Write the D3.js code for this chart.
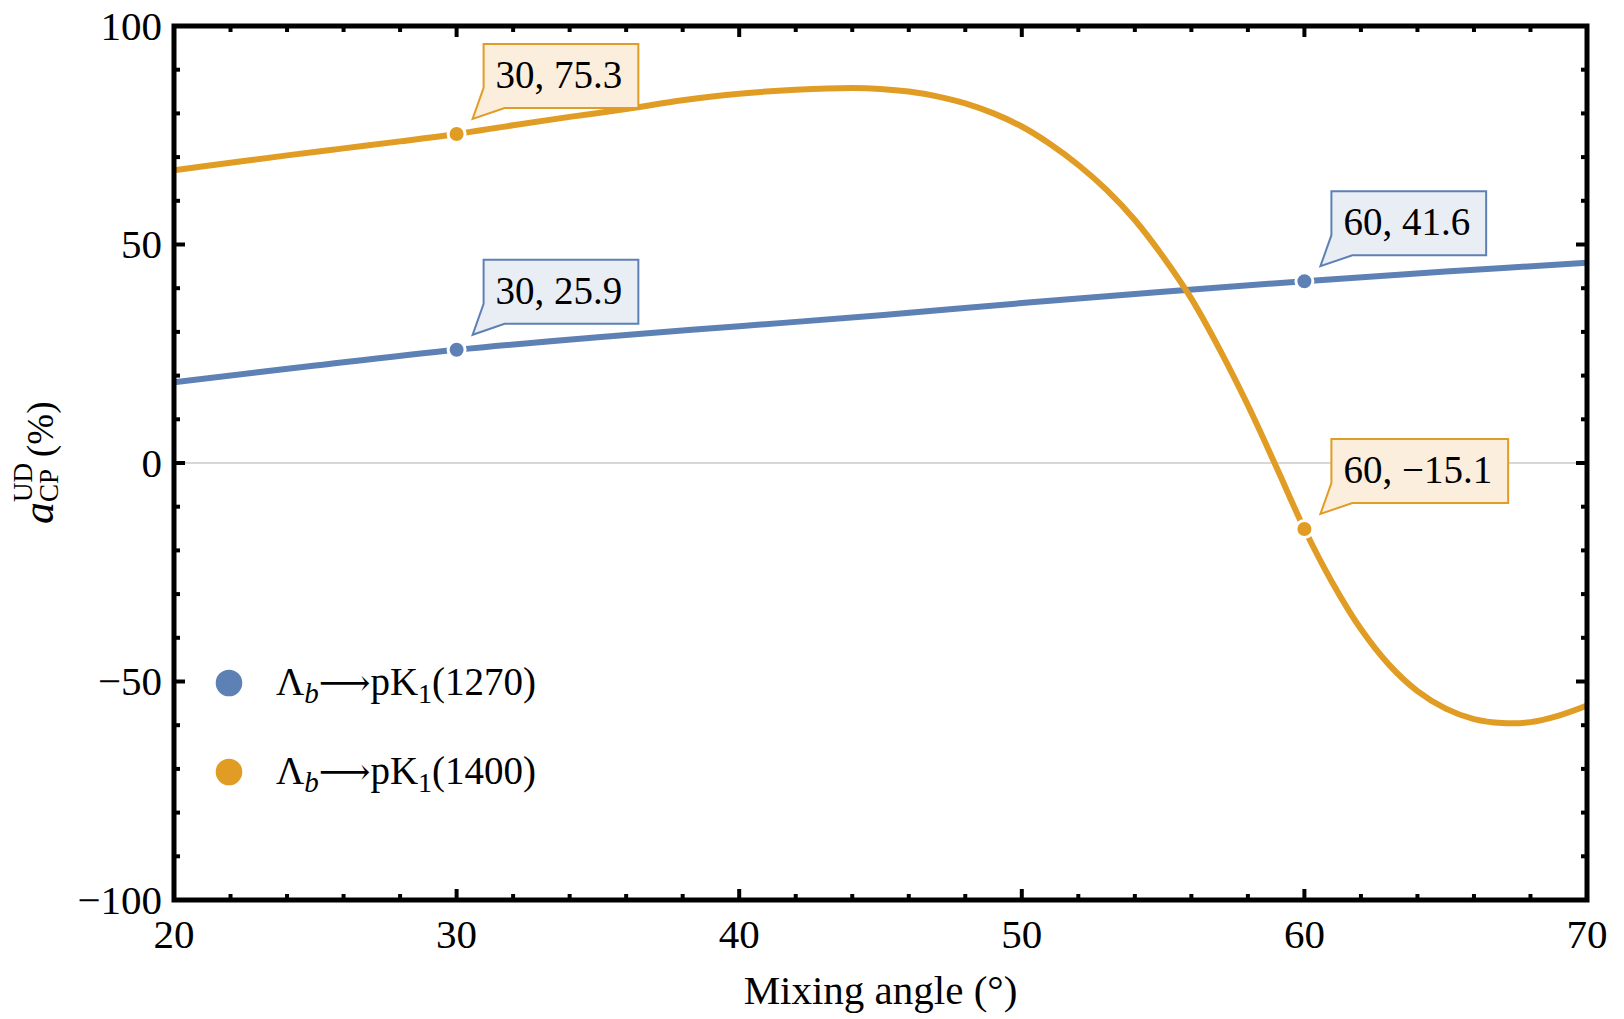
<!DOCTYPE html>
<html><head><meta charset="utf-8">
<script src="https://cdn.jsdelivr.net/npm/d3@7"></script>
<style>
body{margin:0;background:#fff}
text{font-family:'Liberation Serif','Times New Roman','DejaVu Serif',serif;fill:#000}
</style>
</head><body>
<svg id="chart" width="1624" height="1019"></svg>
<script>
// ---- data ----
const blueAngles  = [20, 25, 30, 35, 40, 45, 50, 55, 60, 65, 70];
const blueValues  = [18.5, 22.3, 25.9, 28.8, 31.3, 33.8, 36.6, 39.2, 41.6, 43.8, 45.8];
const orangeAngles = [20, 22, 24, 26, 28, 30, 32, 34, 36, 38, 40, 42, 44, 45, 46, 47, 48, 49, 50, 51, 52, 53, 54, 55, 56, 57, 58, 59, 60, 61, 62, 63, 64, 65, 66, 67, 68, 69, 70];
const orangeValues = [67.0, 68.7, 70.4, 72.0, 73.6, 75.3, 77.3, 79.2, 81.0, 83.0, 84.5, 85.4, 85.8, 85.6, 85.0, 83.9, 82.3, 80.0, 77.0, 73.0, 68.2, 62.5, 55.6, 47.2, 37.6, 26.0, 13.2, -0.8, -15.1, -27.5, -38.0, -46.2, -52.2, -56.2, -58.6, -59.5, -59.3, -57.8, -55.5];
const xTickLabels = [20, 30, 40, 50, 60, 70];
const yTickLabels = [-100, -50, 0, 50, 100];
const calloutAngles = [30, 60, 30, 60];
const calloutValues = [25.9, 41.6, 75.3, -15.1];
const calloutSeries = [0, 0, 1, 1];
const seriesMasses = ['1270', '1400'];

const colors = ['#5E81B5', '#E19C24'];
const fills = ['#E9EEF5', '#FBEEDC'];

const svg = d3.select('#chart');
const L = 174, R = 1587, T = 26, B = 900;
const x = d3.scaleLinear().domain([20, 70]).range([L, R]);
const y = d3.scaleLinear().domain([-100, 100]).range([B, T]);

// zero line
svg.append('line').attr('x1', L).attr('x2', R).attr('y1', y(0)).attr('y2', y(0))
  .attr('stroke', '#b0b0b0').attr('stroke-width', 1.2);

const line = d3.line().x(d => x(d[0])).y(d => y(d[1])).curve(d3.curveCatmullRom.alpha(0.5));
const series = [
  d3.zip(blueAngles, blueValues),
  d3.zip(orangeAngles, orangeValues)
];
svg.append('clipPath').attr('id', 'clip').append('rect')
  .attr('x', L).attr('y', T).attr('width', R - L).attr('height', B - T);
series.forEach((s, i) => {
  svg.append('path').datum(s).attr('d', line).attr('fill', 'none')
    .attr('stroke', colors[i]).attr('stroke-width', 6).attr('clip-path', 'url(#clip)');
});

// callouts
calloutAngles.forEach((a, i) => {
  const v = calloutValues[i], s = calloutSeries[i];
  const px = x(a), py = y(v);
  const g = svg.append('g');
  const label = (a + ', ' + v).replace('-', '\u2212');
  const left = px + 27, bottom = py - 26, h = 64;
  const t = g.append('text').attr('x', left + 12).attr('y', bottom - 20)
    .attr('font-size', 39).text(label);
  const w = t.node().getComputedTextLength() + 28;
  const top = bottom - h;
  const path = `M${left},${top} L${left + w},${top} L${left + w},${bottom} L${left + 21},${bottom} L${px + 16},${py - 15} L${left},${bottom - 20} Z`;
  g.insert('path', 'text').attr('d', path).attr('fill', fills[s])
    .attr('stroke', colors[s]).attr('stroke-width', 2).attr('stroke-linejoin', 'miter');
  svg.append('circle').attr('cx', px).attr('cy', py).attr('r', 8.5)
    .attr('fill', colors[s]).attr('stroke', '#fff').attr('stroke-width', 3);
});

// frame and ticks
const xMinor = d3.range(20, 70.01, 2);
const yMinor = d3.range(-100, 100.01, 10);
const tk = svg.append('g').attr('stroke', '#000').attr('stroke-width', 4);
xMinor.forEach(v => {
  const major = xTickLabels.includes(v);
  const len = major ? 11 : 6;
  tk.append('line').attr('x1', x(v)).attr('x2', x(v)).attr('y1', B).attr('y2', B - len);
  tk.append('line').attr('x1', x(v)).attr('x2', x(v)).attr('y1', T).attr('y2', T + len);
});
yMinor.forEach(v => {
  const major = yTickLabels.includes(v);
  const len = major ? 11 : 6;
  tk.append('line').attr('y1', y(v)).attr('y2', y(v)).attr('x1', L).attr('x2', L + len);
  tk.append('line').attr('y1', y(v)).attr('y2', y(v)).attr('x1', R).attr('x2', R - len);
});
svg.append('rect').attr('x', L).attr('y', T).attr('width', R - L).attr('height', B - T)
  .attr('fill', 'none').attr('stroke', '#000').attr('stroke-width', 5);

// tick labels
xTickLabels.forEach(v => {
  svg.append('text').attr('x', x(v)).attr('y', 948).attr('text-anchor', 'middle')
    .attr('font-size', 41).text(v);
});
yTickLabels.forEach(v => {
  svg.append('text').attr('x', 162).attr('y', y(v)).attr('dy', '0.34em').attr('text-anchor', 'end')
    .attr('font-size', 41).text(String(v).replace('-', '\u2212'));
});

// axis titles
svg.append('text').attr('x', (L + R) / 2).attr('y', 1004).attr('text-anchor', 'middle')
  .attr('font-size', 41).text('Mixing angle (\u00B0)');

const yl = svg.append('g').attr('transform', 'translate(53,524) rotate(-90)');
yl.append('text').attr('x', 0).attr('y', 0).attr('font-size', 44).attr('font-style', 'italic').text('a');
yl.append('text').attr('x', 22).attr('y', -21).attr('font-size', 27).text('UD');
yl.append('text').attr('x', 22).attr('y', 5).attr('font-size', 27).text('CP');
yl.append('text').attr('x', 67).attr('y', 0).attr('font-size', 37).text('(%)');

// legend
seriesMasses.forEach((m, i) => {
  const cy = 683 + i * 89;
  svg.append('circle').attr('cx', 229).attr('cy', cy).attr('r', 13.3).attr('fill', colors[i]);
  const t = svg.append('text').attr('x', 276).attr('y', cy + 12).attr('font-size', 39);
  t.append('tspan').text('\u039B');
  t.append('tspan').attr('font-style', 'italic').attr('font-size', 29).attr('dy', 8).text('b');
  t.append('tspan').attr('dy', -8).attr('font-family', "'DejaVu Serif','DejaVu Sans',serif").attr('font-size', 36).text('\u27F6');
  t.append('tspan').text('pK');
  t.append('tspan').attr('font-size', 28).attr('dy', 8).text('1');
  t.append('tspan').attr('dy', -8).text('(' + m + ')');
});
</script>
</body></html>
